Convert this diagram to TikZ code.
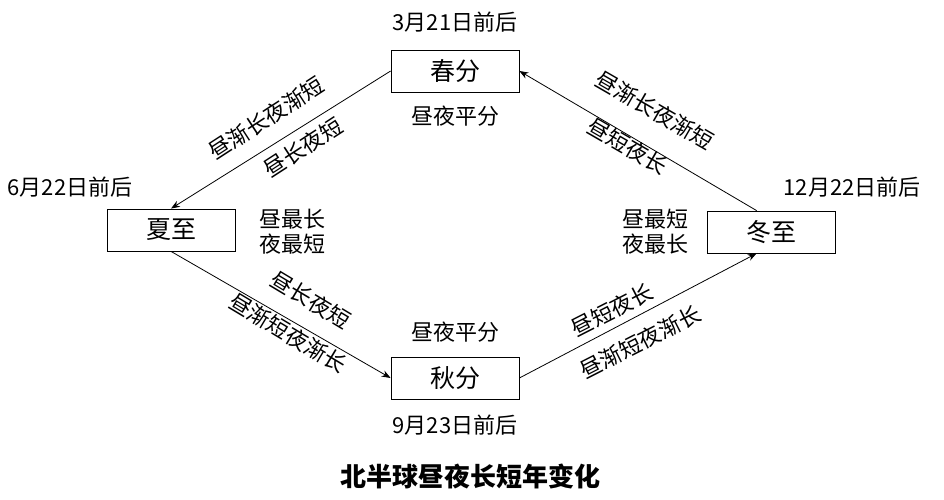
\documentclass[tikz,border=0pt]{standalone}
\usepackage{fontspec}
\setmainfont{Noto Sans CJK SC}
\usetikzlibrary{arrows.meta}
\usetikzlibrary{calc}
\tikzset{
    season/.style = {draw, thick, minimum width=128pt, minimum height=42pt,
                     font=\fontsize{25}{28}\selectfont},
    tran/.style   = {draw, thick, -{Stealth[length=9pt]}},
    txt/.style    = {font=\fontsize{22}{25}\selectfont, inner sep=1pt}
}

\begin{document}
\begin{tikzpicture}[x=1pt, y=-1pt]
\useasboundingbox (0,0) rectangle (944,500);

\node[season] (spring) at (455,71)  {春分};
\node[season] (summer) at (171,230) {夏至};
\node[season] (winter) at (771,232) {冬至};
\node[season] (autumn) at (455,378) {秋分};

% dates and day-night notes
\node[txt] (d1) at (455,22)  {3月21日前后};
\node[txt] (e1) at (455,116) {昼夜平分};
\node[txt] (d2) at (70,187)  {6月22日前后};
\node[txt, align=left] (e2) at (292,232) {昼最长\\夜最短};
\node[txt] (d3) at (852,187) {12月22日前后};
\node[txt, align=left] (e3) at (655,232) {昼最短\\夜最长};
\node[txt] (e4) at (455,332) {昼夜平分};
\node[txt] (d4) at (455,425) {9月23日前后};

% transitions
\coordinate (winterin)  at ($(winter.south west)+(50,0)$);
\coordinate (winterout) at ($(winter.north west)+(50,0)$);
\draw[tran] (spring.west) -- (summer.north);
\draw[tran] (summer.south) -- (autumn.west);
\draw[tran] (autumn.east) -- (winterin);
\draw[tran] (winterout) -- (spring.east);

\node[txt, rotate=33]  (t1) at (266,118) {昼渐长夜渐短};
\node[txt, rotate=33]  (t2) at (303,147) {昼长夜短};
\node[txt, rotate=-31] (t3) at (311,300) {昼长夜短};
\node[txt, rotate=-31] (t4) at (288,333) {昼渐短夜渐长};
\node[txt, rotate=27]  (t5) at (612,310) {昼短夜长};
\node[txt, rotate=27]  (t6) at (640,342) {昼渐短夜渐长};
\node[txt, rotate=-30] (t7) at (655,110) {昼渐长夜渐短};
\node[txt, rotate=-30] (t8) at (628,146) {昼短夜长};

\node[font=\fontsize{26}{29}\selectfont\bfseries] (title) at (470,476) {北半球昼夜长短年变化};
\end{tikzpicture}
\end{document}
